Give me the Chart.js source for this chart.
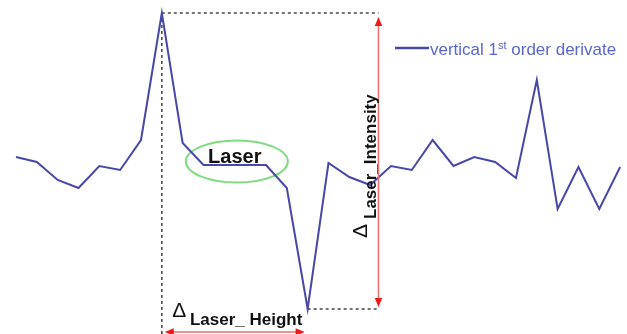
<!DOCTYPE html>
<html>
<head>
<meta charset="utf-8">
<script src="https://cdn.jsdelivr.net/npm/chart.js@4"></script>
<style>
  html, body { margin: 0; padding: 0; background: #fff; }
  #wrap { width: 627px; height: 334px; position: relative; }
</style>
</head>
<body>
<div id="wrap"><canvas id="myChart"></canvas></div>
<script>
// sample index along the scan line and the derivative
var sampleIdx = [0, 1, 2, 3, 4, 5, 6, 7, 8, 9, 10, 11, 12, 13, 14, 15, 16, 17, 18, 19, 20, 21, 22, 23, 24, 25, 26, 27, 28, 29];
var derivValues = [0.8, 0.3, -1.5, -2.3, -0.1, -0.5, 2.5, 15.2, 2.2, 0, 0, 0, 0, -2.3, -14.4, 0.2, -1.2, -2.0, -0.1, -0.5, 2.5, -0.1, 0.8, 0.3, -1.3, 8.5, -4.4, -0.2, -4.4, -0.2];
var seriesLabel = "vertical 1st order derivate";

// where the intensity arrow sits (in sample units)
var intensityArrowX = 17.4;

var peakIdx = derivValues.indexOf(Math.max.apply(null, derivValues));
var lowIdx = derivValues.indexOf(Math.min.apply(null, derivValues));

function arrowHead(ctx, x, y, dir) {
  // dir: "up", "down", "left", "right"
  var s = 6;
  ctx.beginPath();
  if (dir === "up") { ctx.moveTo(x, y); ctx.lineTo(x - s / 1.6, y + s * 1.5); ctx.lineTo(x + s / 1.6, y + s * 1.5); }
  if (dir === "down") { ctx.moveTo(x, y); ctx.lineTo(x - s / 1.6, y - s * 1.5); ctx.lineTo(x + s / 1.6, y - s * 1.5); }
  if (dir === "left") { ctx.moveTo(x, y); ctx.lineTo(x + s * 1.5, y - s / 1.6); ctx.lineTo(x + s * 1.5, y + s / 1.6); }
  if (dir === "right") { ctx.moveTo(x, y); ctx.lineTo(x - s * 1.5, y - s / 1.6); ctx.lineTo(x - s * 1.5, y + s / 1.6); }
  ctx.closePath();
  ctx.fill();
}

var markup = {
  id: "markup",
  beforeDatasetsDraw: function (chart) {
    var ctx = chart.ctx, xs = chart.scales.x, ys = chart.scales.y;
    var px = xs.getPixelForValue(sampleIdx[peakIdx]), py = ys.getPixelForValue(derivValues[peakIdx]);
    var lx = xs.getPixelForValue(sampleIdx[lowIdx]), ly = ys.getPixelForValue(derivValues[lowIdx]);
    var ax = xs.getPixelForValue(intensityArrowX);
    ctx.save();
    ctx.strokeStyle = "#444";
    ctx.lineWidth = 1.5;
    ctx.setLineDash([3, 3]);
    ctx.beginPath();
    ctx.moveTo(px, py); ctx.lineTo(ax, py);
    ctx.moveTo(px, py); ctx.lineTo(px, chart.height);
    ctx.moveTo(lx, ly); ctx.lineTo(ax, ly);
    ctx.stroke();
    ctx.setLineDash([]);

    // green ellipse round the flat "Laser" stretch
    ctx.strokeStyle = "#80dc80";
    ctx.lineWidth = 2;
    ctx.beginPath();
    ctx.ellipse(xs.getPixelForValue(10.6), ys.getPixelForValue(0.35), 51, 21, 0, 0, Math.PI * 2);
    ctx.stroke();
    ctx.restore();
  },
  afterDatasetsDraw: function (chart) {
    var ctx = chart.ctx, xs = chart.scales.x, ys = chart.scales.y;
    var px = xs.getPixelForValue(sampleIdx[peakIdx]);
    var lx = xs.getPixelForValue(sampleIdx[lowIdx]);
    var ax = xs.getPixelForValue(intensityArrowX);
    var topY = ys.getPixelForValue(derivValues[peakIdx]) + 4;
    var botY = ys.getPixelForValue(derivValues[lowIdx]) - 2;
    ctx.save();

    // red vertical double arrow
    ctx.strokeStyle = "#e87070";
    ctx.fillStyle = "#ee1a1a";
    ctx.lineWidth = 1.5;
    ctx.beginPath();
    ctx.moveTo(ax, topY + 4); ctx.lineTo(ax, botY - 4);
    ctx.stroke();
    arrowHead(ctx, ax, topY, "up");
    arrowHead(ctx, ax, botY, "down");

    // red horizontal double arrow along the bottom
    var hy = ys.getPixelForValue(-16.7);
    ctx.beginPath();
    ctx.moveTo(px + 6, hy); ctx.lineTo(lx - 6, hy);
    ctx.stroke();
    arrowHead(ctx, px + 3, hy, "left");
    arrowHead(ctx, lx - 3, hy, "right");

    // labels
    ctx.fillStyle = "#111";
    ctx.font = "bold 20px 'Liberation Sans', Arial, sans-serif";
    ctx.textAlign = "center";
    ctx.textBaseline = "alphabetic";
    ctx.fillText("Laser", xs.getPixelForValue(10.5), ys.getPixelForValue(0.2));

    ctx.textAlign = "left";
    ctx.font = "21px 'Liberation Sans', Arial, sans-serif";
    ctx.fillText("\u0394", xs.getPixelForValue(7.5), ys.getPixelForValue(-15.2));
    ctx.font = "bold 17px 'Liberation Sans', Arial, sans-serif";
    ctx.fillText("Laser_ Height", xs.getPixelForValue(8.35), ys.getPixelForValue(-16.0));

    ctx.translate(ax - 2, ys.getPixelForValue(-7.3));
    ctx.rotate(-Math.PI / 2);
    ctx.font = "21px 'Liberation Sans', Arial, sans-serif";
    ctx.fillText("\u0394", 0, -9);
    ctx.font = "bold 17px 'Liberation Sans', Arial, sans-serif";
    ctx.fillText("Laser_Intensity", 19, 0);
    ctx.restore();

    // legend
    ctx.save();
    ctx.strokeStyle = "#4848a8";
    ctx.lineWidth = 2.5;
    ctx.beginPath();
    ctx.moveTo(395, 48); ctx.lineTo(429, 48);
    ctx.stroke();
    ctx.fillStyle = "#5a66cc";
    ctx.textAlign = "left";
    ctx.font = "17px 'Liberation Sans', Arial, sans-serif";
    var parts = seriesLabel.split("1st");
    var x = 430;
    ctx.fillText(parts[0] + "1", x, 55);
    x += ctx.measureText(parts[0] + "1").width;
    ctx.font = "11px 'Liberation Sans', Arial, sans-serif";
    ctx.fillText("st", x, 49);
    x += ctx.measureText("st").width;
    ctx.font = "17px 'Liberation Sans', Arial, sans-serif";
    ctx.fillText(parts[1], x, 55);
    ctx.restore();
  }
};

var ctx = document.getElementById("myChart").getContext("2d");

var myChart = new Chart(ctx, {
  type: "line",
  data: {
    datasets: [
      {
        label: seriesLabel,
        data: sampleIdx.map(function (i) { return { x: i, y: derivValues[i] }; }),
        borderColor: "#4848a8",
        borderWidth: 2,
        pointRadius: 0,
        tension: 0,
        fill: false,
      },
    ],
  },
  options: {
    responsive: true,
    maintainAspectRatio: false,
    animation: false,
    layout: { padding: 0 },
    scales: {
      x: { type: "linear", min: -0.768, max: 29.33, display: false },
      y: { min: -16.9, max: 16.5, display: false },
    },
    plugins: {
      legend: { display: false },
      tooltip: { enabled: false },
    },
  },
  plugins: [markup],
});
</script>
</body>
</html>
